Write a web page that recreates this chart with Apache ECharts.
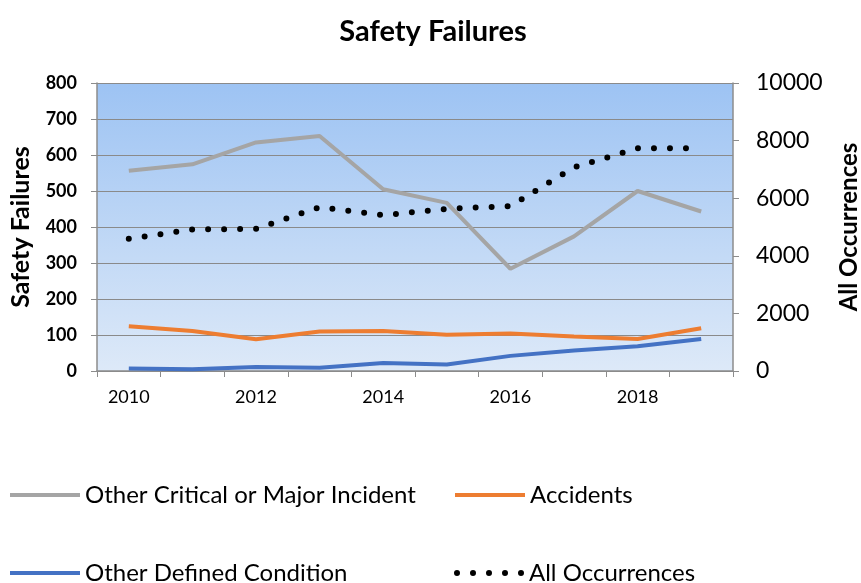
<!DOCTYPE html>
<html>
<head>
<meta charset="utf-8">
<script src="https://cdn.jsdelivr.net/npm/echarts@6/dist/echarts.min.js"></script>
<style>
  html, body { margin: 0; padding: 0; background: #fff; }
  #chart { width: 861px; height: 583px; }
</style>
</head>
<body>
<div id="chart"></div>
<script>
// years on the x axis
const years = ['2010', '2011', '2012', '2013', '2014', '2015', '2016', '2017', '2018', '2019'];

// left axis (Safety Failures)
const otherCritical = [556, 574, 635, 653, 505, 467, 284, 374, 500, 443];
const accidents = [124, 111, 88, 110, 111, 101, 104, 96, 89, 119];
const otherDefined = [7, 5, 11, 9, 22, 18, 42, 57, 69, 89];

// right axis (All Occurrences)
const allOccurrences = [4590, 4915, 4935, 5690, 5410, 5630, 5725, 7070, 7730, 7740];

const font = 'Lato, "Open Sans", sans-serif';

const chart = echarts.init(document.getElementById('chart'));

// legend glyphs: a plain bar for the solid lines, five dots for the dotted one
const barIcon = 'path://M0,0H70V4H0Z';
const dotIcon = 'path://' + [0, 16, 32, 48, 64].map(x =>
    'M' + x + ',3a3,3 0 1,0 6,0a3,3 0 1,0 -6,0').join('') + 'Z';

const legendText = { color: '#000', fontFamily: font, fontSize: 24 };
function legendAt(name, icon, h, left, top) {
    return {
        data: [{ name: name, icon: icon }],
        left: left,
        top: top,
        padding: 0,
        itemWidth: 70,
        itemHeight: h,
        itemGap: 0,
        textStyle: legendText,
        selectedMode: false
    };
}

const option = {
    backgroundColor: '#fff',
    animation: false,
    title: {
        text: 'Safety Failures',
        left: 433,
        textAlign: 'center',
        top: 17,
        padding: 0,
        textStyle: { fontFamily: font, fontSize: 29, fontWeight: 'bold', color: '#000' }
    },
    legend: [
        legendAt('Other Critical or Major Incident', barIcon, 4, 10, 483),
        legendAt('Accidents', barIcon, 4, 455, 483),
        legendAt('Other Defined Condition', barIcon, 4, 10, 561),
        legendAt('All Occurrences', dotIcon, 6, 454, 561)
    ],
    grid: {
        left: 97,
        right: 128,
        top: 83,
        bottom: 212,
        outerBoundsMode: 'none',
        containLabel: false,
        show: true,
        borderWidth: 0,
        backgroundColor: {
            type: 'linear', x: 0, y: 0, x2: 0, y2: 1,
            colorStops: [
                { offset: 0, color: '#9dc3f3' },
                { offset: 1, color: '#dde9f8' }
            ]
        }
    },
    xAxis: {
        type: 'category',
        data: years,
        boundaryGap: true,
        axisLine: { lineStyle: { color: '#8c8c8c', width: 1.5 } },
        axisTick: { show: true, interval: 0, length: 6, lineStyle: { color: '#8c8c8c' } },
        axisLabel: {
            interval: 1,
            margin: 17,
            color: '#000',
            fontFamily: font,
            fontSize: 18
        }
    },
    yAxis: [
        {
            type: 'value',
            min: 0,
            max: 800,
            interval: 100,
            name: 'Safety Failures',
            nameLocation: 'middle',
            nameGap: 64,
            nameTextStyle: { fontFamily: font, fontSize: 25, fontWeight: 'bold', color: '#000' },
            axisLine: { show: true, lineStyle: { color: '#8c8c8c', width: 1.5 } },
            axisTick: { show: true, length: 6, lineStyle: { color: '#8c8c8c' } },
            axisLabel: { color: '#000', fontFamily: font, fontSize: 18, fontWeight: 'bold', margin: 20 },
            splitLine: { show: true, lineStyle: { color: '#8a8a8a', width: 1 } }
        },
        {
            type: 'value',
            min: 0,
            max: 10000,
            interval: 2000,
            name: 'All Occurrences',
            nameLocation: 'middle',
            nameGap: 104,
            nameTextStyle: { fontFamily: font, fontSize: 24, fontWeight: 'bold', color: '#000' },
            axisLine: { show: true, lineStyle: { color: '#8c8c8c', width: 1.5 } },
            axisTick: { show: true, length: 6, lineStyle: { color: '#8c8c8c' } },
            axisLabel: {
                color: '#000', fontFamily: font, fontSize: 23, margin: 23,
                formatter: v => String(v)
            },
            splitLine: { show: false }
        }
    ],
    series: [
        {
            name: 'Other Critical or Major Incident',
            type: 'line',
            data: otherCritical,
            symbol: 'none',
            color: '#a5a5a5',
            lineStyle: { width: 4, color: '#a5a5a5' }
        },
        {
            name: 'Accidents',
            type: 'line',
            data: accidents,
            symbol: 'none',
            color: '#ed7d31',
            lineStyle: { width: 4, color: '#ed7d31' }
        },
        {
            name: 'Other Defined Condition',
            type: 'line',
            data: otherDefined,
            symbol: 'none',
            color: '#4472c4',
            lineStyle: { width: 4, color: '#4472c4' }
        },
        {
            name: 'All Occurrences',
            type: 'line',
            yAxisIndex: 1,
            data: allOccurrences,
            symbol: 'none',
            color: '#000',
            lineStyle: { width: 6, color: '#000', type: [0, 16], cap: 'round' }
        }
    ]
};

chart.setOption(option);
</script>
</body>
</html>
